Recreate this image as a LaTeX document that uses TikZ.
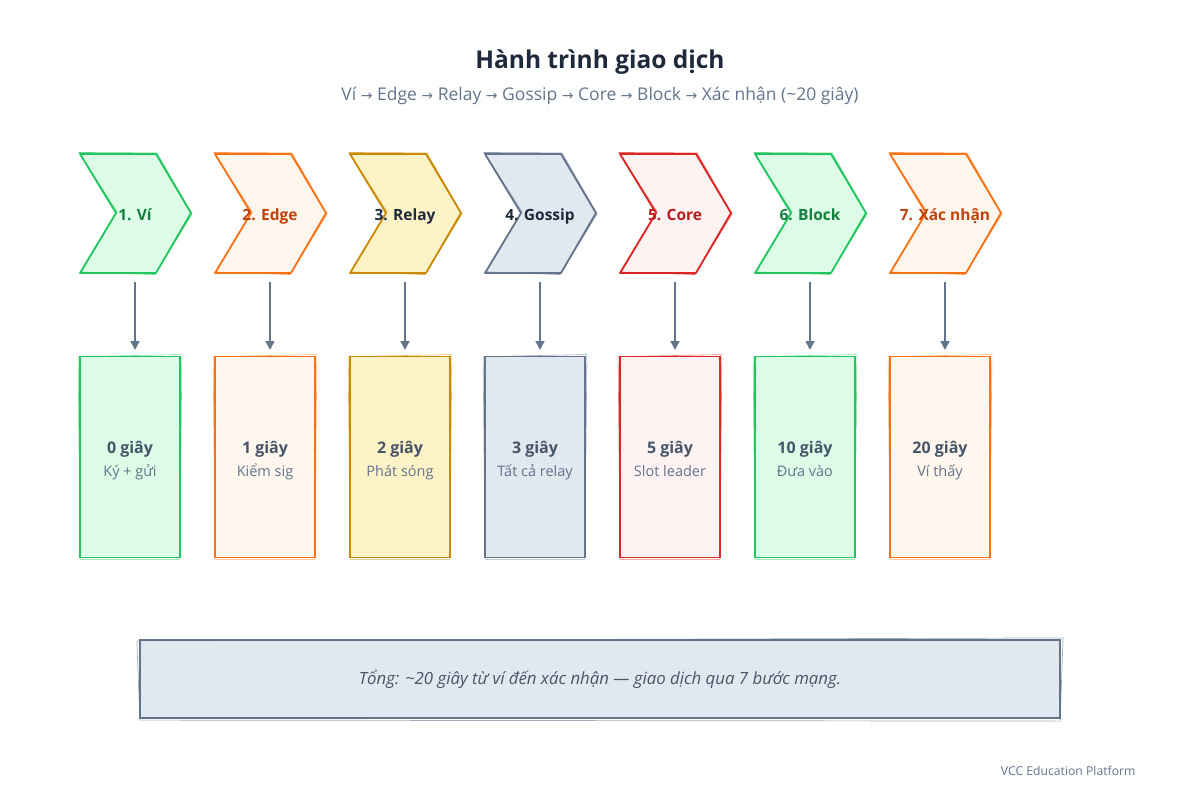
\documentclass[tikz,border=0pt]{standalone}
\usepackage{fontspec}
\setmainfont{Open Sans}
\newfontfamily\symfont{DejaVu Sans}
\newcommand{\ar}{{\symfont\fontsize{14}{16}\selectfont →}}
\usetikzlibrary{arrows.meta}
\definecolor{ink}{HTML}{1E293B}
\definecolor{slate}{HTML}{64748B}
\definecolor{slatetext}{HTML}{475569}
\definecolor{gS}{HTML}{22C55E}\definecolor{gF}{HTML}{DCFCE7}\definecolor{gT}{HTML}{15803D}
\definecolor{oS}{HTML}{F97316}\definecolor{oF}{HTML}{FFF7ED}\definecolor{oT}{HTML}{C2410C}
\definecolor{yS}{HTML}{CA8A04}\definecolor{yF}{HTML}{FEF3C7}
\definecolor{sS}{HTML}{64748B}\definecolor{sF}{HTML}{E2E8F0}
\definecolor{rS}{HTML}{DC2626}\definecolor{rF}{HTML}{FEF2F2}\definecolor{rT}{HTML}{B91C1C}
\tikzset{
  chev/.style={line width=1.8pt, line join=round},
  stagelabel/.style={font=\fontsize{15.5}{18}\selectfont\bfseries, anchor=base},
  timebox/.style={line width=1.8pt, minimum width=100pt, minimum height=201pt, inner sep=0pt},
  timetext/.style={font=\fontsize{16}{19}\selectfont\bfseries, text=slatetext, anchor=base},
  desctext/.style={font=\fontsize{14.5}{17}\selectfont, text=slate, anchor=base},
  flow/.style={draw=slate, line width=1.6pt, -{Triangle[length=9pt,width=9pt]}},
}
\begin{document}
\begin{tikzpicture}[x=1pt,y=-1pt]
\useasboundingbox (0,0) rectangle (1200,800);
\node[font=\fontsize{24.5}{29}\selectfont\bfseries, text=ink] (title) at (600,62) {Hành trình giao dịch};
\node[font=\fontsize{17.5}{21}\selectfont, text=slate] (subtitle) at (600,96) {Ví \ar{} Edge \ar{} Relay \ar{} Gossip \ar{} Core \ar{} Block \ar{} Xác nhận (\textasciitilde20 giây)};
\foreach \i/\L/\s/\f/\t/\lab/\tm/\ds in {
  1/80/gS/gF/gT/{1. Ví}/{0 giây}/{Ký + gửi},
  2/215/oS/oF/oT/{2. Edge}/{1 giây}/{Kiểm sig},
  3/350/yS/yF/ink/{3. Relay}/{2 giây}/{Phát sóng},
  4/485/sS/sF/ink/{4. Gossip}/{3 giây}/{Tất cả relay},
  5/620/rS/rF/rT/{5. Core}/{5 giây}/{Slot leader},
  6/755/gS/gF/gT/{6. Block}/{10 giây}/{Đưa vào},
  7/890/oS/oF/oT/{7. Xác nhận}/{20 giây}/{Ví thấy}} {
  \filldraw[chev, draw=\s, fill=\f] (\L,154) -- (\L+76,154) -- (\L+111,213) -- (\L+76,273) -- (\L,273) -- (\L+36,213) -- cycle;
  \draw[line width=0.7pt, draw=\s, opacity=0.7] (\L-1,152.5) -- (\L+77,153) -- (\L+112,214) -- (\L+75,274.5) -- (\L+1,272) -- (\L+37,212) -- cycle;
  \node[stagelabel, text=\t] (c\i) at (\L+55,220) {\lab};
  \coordinate (a\i) at (\L+55,282);
  \node[timebox, draw=\s, fill=\f] (b\i) at (\L+50,457) {};
  \draw[line width=0.6pt, draw=\s, opacity=0.6] ([shift={(-1,1)}]b\i.north west) -- ([shift={(1,-1)}]b\i.north east) -- ([shift={(-1,1)}]b\i.south east) -- ([shift={(1,1)}]b\i.south west) -- cycle;
  \node[timetext] (t\i) at (\L+50,453) {\tm};
  \node[desctext] (d\i) at (\L+50,476) {\ds};
  \coordinate (e\i) at (\L+55,350);
  \draw[flow] (a\i) -- (e\i);
}
\node[draw=slate, fill=sF, line width=2.2pt, minimum width=920pt, minimum height=78pt, font=\fontsize{16.8}{20}\selectfont\itshape, text=slatetext] (sum) at (600,679) {Tổng: \textasciitilde20 giây từ ví đến xác nhận — giao dịch qua 7 bước mạng.};
\draw[line width=0.7pt, draw=slate, opacity=0.6] ([shift={(-2,2)}]sum.north west) -- ([shift={(2,-1)}]sum.north east) -- ([shift={(-1,2)}]sum.south east) -- ([shift={(1,1)}]sum.south west) -- cycle;
\node[font=\fontsize{12.2}{14}\selectfont, text=slate, anchor=east] (footer) at (1139,771) {VCC Education Platform};
\end{tikzpicture}
\end{document}
